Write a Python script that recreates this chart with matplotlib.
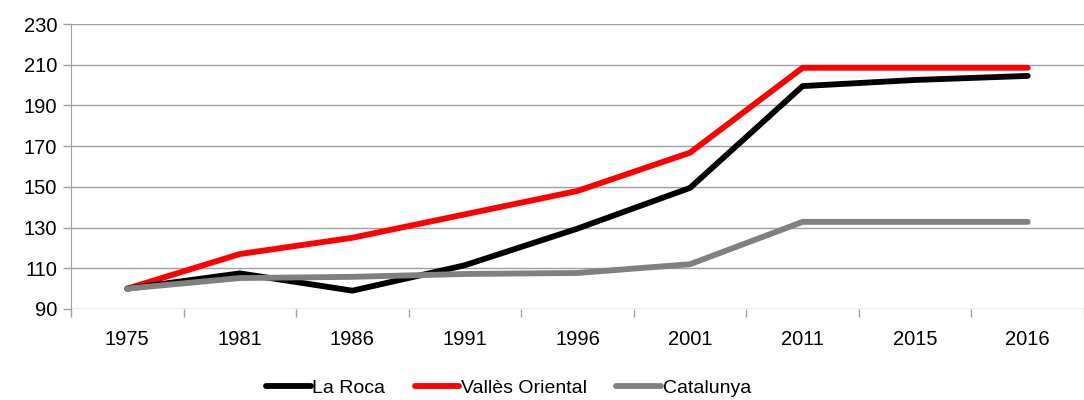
import matplotlib.pyplot as plt
import numpy as np

plt.rcParams['font.family'] = ['Liberation Sans', 'DejaVu Sans']

years = ['1975', '1981', '1986', '1991', '1996', '2001', '2011', '2015', '2016']
la_roca = [100, 107.5, 99, 111.5, 129.5, 149.5, 199.5, 202.5, 204.5]
valles = [100, 117, 125, 136.5, 148, 166.8, 208.5, 208.5, 208.5]
catalunya = [100, 105.2, 105.8, 107.2, 107.7, 112, 132.8, 132.8, 132.8]

fig = plt.figure(figsize=(10.84, 4.0), dpi=100)
ax = fig.add_axes([0.0655, 0.2275, 0.9345, 0.7125])

x = np.arange(len(years))
lw = 4.2
ax.plot(x, la_roca, color='black', lw=lw, solid_capstyle='round', solid_joinstyle='round', label='La Roca', zorder=3)
ax.plot(x, valles, color='#ff0000', lw=lw, solid_capstyle='round', solid_joinstyle='round', label='Vallès Oriental', zorder=2)
ax.plot(x, catalunya, color='#808080', lw=lw, solid_capstyle='round', solid_joinstyle='round', label='Catalunya', zorder=4)

ax.set_ylim(90, 230)
ax.set_yticks(range(90, 231, 20))
ax.set_xlim(-0.5, len(years) - 0.5)
ax.set_xticks(x)
ax.set_xticklabels(years)
ax.set_xticks(np.arange(-0.5, len(years), 1), minor=True)
ax.tick_params(axis='x', which='major', length=0, pad=15, labelsize=14.5)
ax.tick_params(axis='x', which='minor', length=6, color='#a0a0a0', width=1)
ax.tick_params(axis='y', length=6, color='#a0a0a0', width=1, labelsize=14.5, pad=4)
ax.grid(axis='y', color='#a0a0a0', lw=1)
ax.set_axisbelow(True)
for s in ['top', 'right', 'bottom']:
    ax.spines[s].set_visible(False)
ax.spines['left'].set_color('#a0a0a0')

ax.legend(loc='lower center', bbox_to_anchor=(0.432, -0.37), ncol=3, frameon=False,
          fontsize=14, handlelength=2.3, handletextpad=0.1, columnspacing=1.5)

plt.savefig('out.png', dpi=100)
